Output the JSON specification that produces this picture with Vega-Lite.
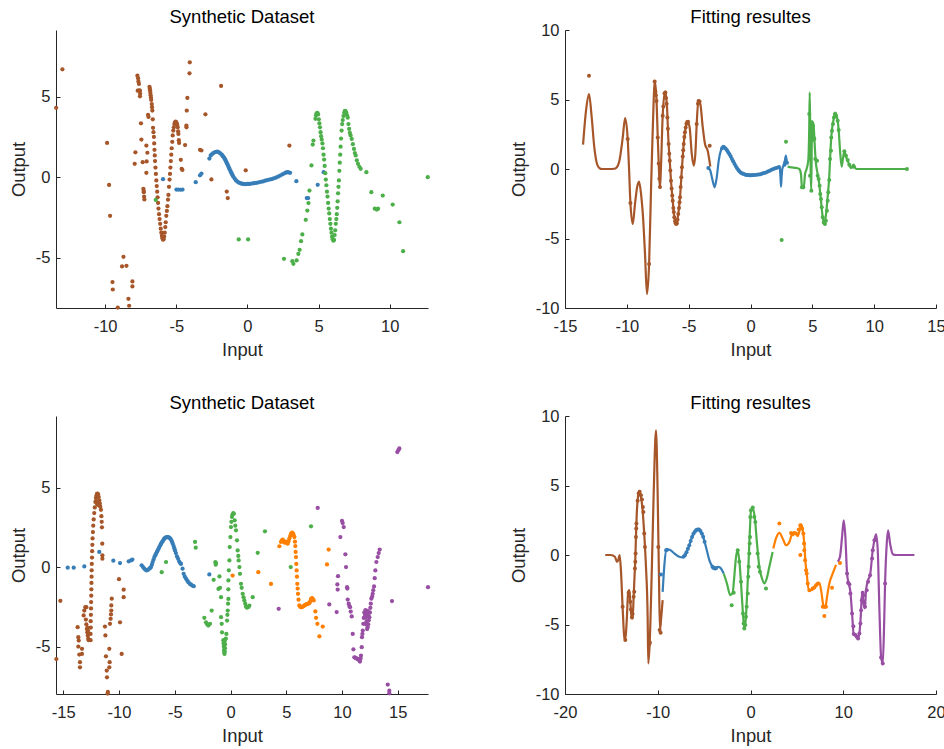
{
"$schema":"https://vega.github.io/schema/vega-lite/v6.json",
"background":"white",
"padding":{"left":9,"top":7,"right":0,"bottom":5},
"config":{
"view":{"stroke":null},
"font":"Liberation Sans",
"axis":{"grid":false,"domainColor":"#262626","domainWidth":1,"tickColor":"#262626","tickSize":-4,"labelColor":"#262626","labelFont":"Liberation Sans","labelFontSize":16.5,"titleFont":"Liberation Sans","titleFontSize":18.4,"titleFontWeight":"normal","titleColor":"#262626","labelFlush":false,"labelOverlap":false,"labelExpr":"toString(datum.value)"},
"axisX":{"labelPadding":14,"titlePadding":6},
"axisY":{"labelPadding":10,"titlePadding":7},
"title":{"font":"Liberation Sans","fontSize":18.5,"fontWeight":"normal","color":"#000000","offset":4,"frame":"group"}
},
"datasets":{
"d1":[
{"x":-13.44,"y":4.31,"g":1},{"x":-13.0,"y":6.71,"g":1},{"x":-9.86,"y":2.13,"g":1},{"x":-9.72,"y":-0.48,"g":1},{"x":-9.65,"y":-2.4,"g":1},{"x":-9.48,"y":-6.52,"g":1},{"x":-9.46,"y":-6.98,"g":1},{"x":-9.11,"y":-8.1,"g":1},{"x":-8.81,"y":-5.55,"g":1},{"x":-8.71,"y":-4.95,"g":1},{"x":-8.5,"y":-5.51,"g":1},{"x":-8.36,"y":-7.56,"g":1},{"x":-8.31,"y":-7.99,"g":1},{"x":-8.08,"y":-6.48,"g":1},{"x":-8.08,"y":-6.79,"g":1},{"x":-7.87,"y":1.55,"g":1},{"x":-7.92,"y":0.83,"g":1},
{"x":-7.73,"y":6.31,"g":1},{"x":-7.68,"y":6.15,"g":1},{"x":-7.66,"y":5.95,"g":1},{"x":-7.62,"y":5.8,"g":1},{"x":-7.71,"y":5.38,"g":1},{"x":-7.6,"y":5.4,"g":1},{"x":-7.55,"y":5.38,"g":1},{"x":-7.54,"y":5.2,"g":1},{"x":-7.55,"y":5.03,"g":1},
{"x":-7.48,"y":3.35,"g":1},{"x":-7.45,"y":2.34,"g":1},{"x":-7.36,"y":0.93,"g":1},{"x":-7.31,"y":-0.72,"g":1},{"x":-7.29,"y":-0.85,"g":1},{"x":-7.28,"y":-0.93,"g":1},{"x":-7.26,"y":-1.2,"g":1},{"x":-7.24,"y":-1.38,"g":1},{"x":-7.1,"y":1.97,"g":1},{"x":-7.03,"y":1.52,"g":1},{"x":-7.08,"y":0.98,"g":1},{"x":-7.1,"y":0.27,"g":1},{"x":-6.98,"y":3.87,"g":1},{"x":-6.95,"y":3.75,"g":1},
{"x":-6.88,"y":5.62,"g":1},{"x":-6.86,"y":5.5,"g":1},{"x":-6.84,"y":5.4,"g":1},{"x":-6.82,"y":5.25,"g":1},{"x":-6.8,"y":5.1,"g":1},{"x":-6.78,"y":4.95,"g":1},{"x":-6.76,"y":4.8,"g":1},{"x":-6.72,"y":4.55,"g":1},{"x":-6.7,"y":4.35,"g":1},{"x":-6.68,"y":4.14,"g":1},{"x":-6.65,"y":3.6,"g":1},{"x":-6.63,"y":3.07,"g":1},{"x":-6.6,"y":2.8,"g":1},
{"x":-6.57,"y":2.5,"g":1},{"x":-6.55,"y":2.1,"g":1},{"x":-6.53,"y":1.7,"g":1},{"x":-6.51,"y":1.35,"g":1},{"x":-6.49,"y":1.0,"g":1},{"x":-6.46,"y":0.6,"g":1},{"x":-6.43,"y":0.2,"g":1},{"x":-6.4,"y":-0.2,"g":1},{"x":-6.37,"y":-0.55,"g":1},{"x":-6.34,"y":-0.9,"g":1},{"x":-6.31,"y":-1.25,"g":1},{"x":-6.28,"y":-1.6,"g":1},{"x":-6.25,"y":-1.95,"g":1},{"x":-6.21,"y":-2.3,"g":1},{"x":-6.17,"y":-2.6,"g":1},{"x":-6.13,"y":-2.9,"g":1},{"x":-6.09,"y":-3.2,"g":1},{"x":-6.05,"y":-3.45,"g":1},{"x":-6.01,"y":-3.65,"g":1},{"x":-5.97,"y":-3.8,"g":1},{"x":-5.93,"y":-3.88,"g":1},{"x":-5.89,"y":-3.85,"g":1},{"x":-5.85,"y":-3.7,"g":1},{"x":-5.81,"y":-3.45,"g":1},{"x":-5.77,"y":-3.1,"g":1},{"x":-5.74,"y":-2.8,"g":1},{"x":-5.7,"y":-2.4,"g":1},{"x":-5.66,"y":-2.1,"g":1},{"x":-5.62,"y":-1.8,"g":1},{"x":-5.58,"y":-1.4,"g":1},{"x":-5.55,"y":-1.1,"g":1},{"x":-5.51,"y":-0.6,"g":1},{"x":-5.47,"y":-0.15,"g":1},{"x":-5.44,"y":0.2,"g":1},{"x":-5.41,"y":0.6,"g":1},{"x":-5.38,"y":1.0,"g":1},{"x":-5.35,"y":1.4,"g":1},{"x":-5.32,"y":1.8,"g":1},{"x":-5.28,"y":2.2,"g":1},{"x":-5.25,"y":2.6,"g":1},{"x":-5.21,"y":2.9,"g":1},{"x":-5.17,"y":3.1,"g":1},{"x":-5.13,"y":3.3,"g":1},{"x":-5.09,"y":3.4,"g":1},{"x":-5.05,"y":3.45,"g":1},{"x":-5.01,"y":3.42,"g":1},{"x":-4.97,"y":3.35,"g":1},{"x":-4.93,"y":3.25,"g":1},
{"x":-4.9,"y":3.1,"g":1},{"x":-4.87,"y":2.85,"g":1},{"x":-4.85,"y":2.69,"g":1},{"x":-4.82,"y":2.3,"g":1},{"x":-4.8,"y":2.13,"g":1},{"x":-4.68,"y":1.08,"g":1},{"x":-4.62,"y":0.52,"g":1},{"x":-4.57,"y":0.45,"g":1},{"x":-4.38,"y":2.0,"g":1},{"x":-4.29,"y":3.21,"g":1},{"x":-4.28,"y":3.1,"g":1},{"x":-4.26,"y":4.14,"g":1},{"x":-4.22,"y":4.93,"g":1},{"x":-4.07,"y":6.46,"g":1},{"x":-4.05,"y":7.14,"g":1},{"x":-3.33,"y":1.7,"g":1},{"x":-3.23,"y":1.66,"g":1},{"x":-2.95,"y":3.91,"g":1},{"x":-2.53,"y":-0.14,"g":1},{"x":-1.85,"y":5.67,"g":1},{"x":-1.45,"y":-0.89,"g":1},{"x":-1.38,"y":-1.3,"g":1},{"x":-0.12,"y":0.43,"g":1},{"x":2.95,"y":1.97,"g":1},
{"x":-5.93,"y":-0.12,"g":2},{"x":-4.99,"y":-0.77,"g":2},{"x":-4.85,"y":-0.77,"g":2},{"x":-4.7,"y":-0.78,"g":2},{"x":-4.56,"y":-0.77,"g":2},{"x":-3.63,"y":-0.31,"g":2},{"x":-3.33,"y":0.12,"g":2},{"x":-3.23,"y":0.23,"g":2},{"x":-2.67,"y":1.16,"g":2},{"x":-2.58,"y":1.35,"g":2},
{"x":-2.5,"y":1.42,"g":2},{"x":-2.4,"y":1.5,"g":2},{"x":-2.3,"y":1.55,"g":2},{"x":-2.2,"y":1.58,"g":2},{"x":-2.1,"y":1.59,"g":2},{"x":-2.0,"y":1.55,"g":2},{"x":-1.9,"y":1.48,"g":2},{"x":-1.8,"y":1.4,"g":2},{"x":-1.75,"y":1.34,"g":2},{"x":-1.7,"y":1.28,"g":2},{"x":-1.65,"y":1.22,"g":2},{"x":-1.6,"y":1.15,"g":2},{"x":-1.55,"y":1.07,"g":2},{"x":-1.5,"y":0.98,"g":2},{"x":-1.45,"y":0.89,"g":2},{"x":-1.4,"y":0.8,"g":2},{"x":-1.35,"y":0.7,"g":2},{"x":-1.3,"y":0.6,"g":2},{"x":-1.25,"y":0.5,"g":2},{"x":-1.2,"y":0.4,"g":2},{"x":-1.15,"y":0.31,"g":2},{"x":-1.1,"y":0.22,"g":2},{"x":-1.05,"y":0.13,"g":2},{"x":-1.0,"y":0.05,"g":2},{"x":-0.9,"y":-0.08,"g":2},{"x":-0.8,"y":-0.2,"g":2},{"x":-0.7,"y":-0.28,"g":2},{"x":-0.6,"y":-0.33,"g":2},{"x":-0.5,"y":-0.37,"g":2},{"x":-0.4,"y":-0.4,"g":2},{"x":-0.3,"y":-0.42,"g":2},{"x":-0.2,"y":-0.43,"g":2},{"x":-0.1,"y":-0.43,"g":2},{"x":0.0,"y":-0.42,"g":2},{"x":0.1,"y":-0.42,"g":2},{"x":0.2,"y":-0.41,"g":2},{"x":0.35,"y":-0.39,"g":2},{"x":0.5,"y":-0.37,"g":2},{"x":0.65,"y":-0.35,"g":2},{"x":0.8,"y":-0.32,"g":2},{"x":0.95,"y":-0.29,"g":2},{"x":1.1,"y":-0.26,"g":2},{"x":1.25,"y":-0.22,"g":2},{"x":1.4,"y":-0.18,"g":2},{"x":1.55,"y":-0.15,"g":2},{"x":1.7,"y":-0.12,"g":2},{"x":1.85,"y":-0.07,"g":2},{"x":2.0,"y":-0.03,"g":2},{"x":2.15,"y":0.03,"g":2},{"x":2.3,"y":0.1,"g":2},{"x":2.45,"y":0.17,"g":2},{"x":2.6,"y":0.24,"g":2},{"x":2.7,"y":0.28,"g":2},{"x":2.8,"y":0.31,"g":2},{"x":2.9,"y":0.3,"g":2},{"x":3.0,"y":0.27,"g":2},
{"x":3.44,"y":-0.25,"g":2},{"x":4.17,"y":-1.3,"g":2},{"x":4.27,"y":-1.3,"g":2},{"x":4.94,"y":-0.47,"g":2},{"x":5.36,"y":0.31,"g":2},
{"x":-6.44,"y":-1.41,"g":3},{"x":-0.61,"y":-3.87,"g":3},{"x":0.05,"y":-3.87,"g":3},{"x":2.57,"y":-5.07,"g":3},{"x":3.16,"y":-5.22,"g":3},{"x":3.23,"y":-5.38,"g":3},{"x":3.46,"y":-5.17,"g":3},{"x":3.58,"y":-4.76,"g":3},{"x":3.67,"y":-4.51,"g":3},{"x":3.77,"y":-3.98,"g":3},{"x":3.86,"y":-3.56,"g":3},{"x":4.1,"y":-2.65,"g":3},{"x":4.21,"y":-2.07,"g":3},{"x":4.29,"y":-1.61,"g":3},{"x":4.36,"y":-0.83,"g":3},{"x":4.5,"y":0.73,"g":3},{"x":4.59,"y":2.03,"g":3},{"x":4.64,"y":2.28,"g":3},
{"x":4.78,"y":3.63,"g":3},{"x":4.82,"y":3.85,"g":3},{"x":4.86,"y":3.97,"g":3},{"x":4.92,"y":4.0,"g":3},{"x":4.97,"y":3.9,"g":3},{"x":5.02,"y":3.6,"g":3},{"x":5.06,"y":3.35,"g":3},{"x":5.1,"y":3.1,"g":3},{"x":5.14,"y":2.8,"g":3},{"x":5.18,"y":2.55,"g":3},{"x":5.22,"y":2.35,"g":3},{"x":5.27,"y":2.1,"g":3},{"x":5.31,"y":1.8,"g":3},{"x":5.35,"y":1.4,"g":3},{"x":5.39,"y":1.1,"g":3},{"x":5.43,"y":0.7,"g":3},{"x":5.47,"y":0.25,"g":3},{"x":5.51,"y":-0.15,"g":3},{"x":5.55,"y":-0.5,"g":3},{"x":5.59,"y":-0.9,"g":3},{"x":5.63,"y":-1.2,"g":3},{"x":5.67,"y":-1.6,"g":3},{"x":5.71,"y":-1.95,"g":3},{"x":5.75,"y":-2.25,"g":3},{"x":5.79,"y":-2.6,"g":3},{"x":5.83,"y":-2.9,"g":3},{"x":5.87,"y":-3.2,"g":3},{"x":5.91,"y":-3.45,"g":3},{"x":5.95,"y":-3.7,"g":3},{"x":5.99,"y":-3.85,"g":3},{"x":6.04,"y":-3.95,"g":3},{"x":6.09,"y":-3.9,"g":3},{"x":6.13,"y":-3.6,"g":3},{"x":6.17,"y":-3.3,"g":3},{"x":6.21,"y":-2.9,"g":3},{"x":6.25,"y":-2.6,"g":3},{"x":6.28,"y":-2.3,"g":3},{"x":6.31,"y":-1.9,"g":3},{"x":6.34,"y":-1.5,"g":3},{"x":6.37,"y":-1.0,"g":3},{"x":6.4,"y":-0.6,"g":3},{"x":6.43,"y":-0.2,"g":3},{"x":6.46,"y":0.4,"g":3},{"x":6.49,"y":0.9,"g":3},{"x":6.52,"y":1.4,"g":3},{"x":6.55,"y":1.9,"g":3},{"x":6.58,"y":2.4,"g":3},{"x":6.62,"y":2.9,"g":3},{"x":6.66,"y":3.3,"g":3},{"x":6.7,"y":3.55,"g":3},{"x":6.75,"y":3.8,"g":3},{"x":6.8,"y":4.0,"g":3},{"x":6.85,"y":4.12,"g":3},{"x":6.9,"y":4.1,"g":3},{"x":6.95,"y":4.0,"g":3},{"x":7.0,"y":3.85,"g":3},{"x":7.05,"y":3.7,"g":3},{"x":7.1,"y":3.3,"g":3},{"x":7.15,"y":3.0,"g":3},{"x":7.2,"y":2.75,"g":3},{"x":7.25,"y":2.6,"g":3},{"x":7.33,"y":2.38,"g":3},{"x":7.41,"y":2.05,"g":3},{"x":7.49,"y":1.76,"g":3},{"x":7.55,"y":1.5,"g":3},{"x":7.61,"y":1.35,"g":3},{"x":7.69,"y":1.05,"g":3},{"x":7.77,"y":0.83,"g":3},{"x":7.87,"y":0.65,"g":3},{"x":7.96,"y":0.52,"g":3},{"x":8.36,"y":0.31,"g":3},
{"x":8.71,"y":-0.93,"g":3},{"x":8.95,"y":-1.96,"g":3},{"x":9.09,"y":-2.01,"g":3},{"x":9.18,"y":-1.96,"g":3},{"x":9.51,"y":-1.14,"g":3},{"x":10.21,"y":-1.7,"g":3},{"x":10.68,"y":-2.8,"g":3},{"x":10.94,"y":-4.6,"g":3},{"x":12.67,"y":0.0,"g":3}
],
"f1":[
{"x":-13.54,"y":1.75,"g":1},{"x":-13.3,"y":4.2,"g":1},{"x":-13.06,"y":5.39,"g":1},{"x":-12.84,"y":3.71,"g":1},{"x":-12.63,"y":1.55,"g":1},{"x":-12.41,"y":0.36,"g":1},{"x":-12.22,"y":0.07,"g":1},{"x":-12.0,"y":0.0,"g":1},{"x":-11.5,"y":0.0,"g":1},{"x":-11.0,"y":0.02,"g":1},{"x":-10.87,"y":0.07,"g":1},{"x":-10.6,"y":0.6,"g":1},{"x":-10.33,"y":2.27,"g":1},{"x":-10.14,"y":3.67,"g":1},{"x":-9.93,"y":2.16,"g":1},{"x":-9.82,"y":0.0,"g":1},{"x":-9.71,"y":-2.45,"g":1},{"x":-9.52,"y":-3.96,"g":1},{"x":-9.34,"y":-2.52,"g":1},{"x":-9.17,"y":-1.32,"g":1},{"x":-9.01,"y":-0.91,"g":1},{"x":-8.85,"y":-1.8,"g":1},{"x":-8.67,"y":-3.72,"g":1},{"x":-8.53,"y":-6.12,"g":1},{"x":-8.37,"y":-9.0,"g":1},{"x":-8.2,"y":-6.83,"g":1},{"x":-8.04,"y":-1.32,"g":1},{"x":-7.94,"y":1.8,"g":1},{"x":-7.83,"y":4.91,"g":1},{"x":-7.75,"y":6.35,"g":1},{"x":-7.61,"y":5.15,"g":1},{"x":-7.5,"y":2.27,"g":1},{"x":-7.4,"y":-0.12,"g":1},{"x":-7.32,"y":-1.37,"g":1},{"x":-7.24,"y":0.12,"g":1},{"x":-7.1,"y":3.83,"g":1},{"x":-6.91,"y":5.58,"g":1},{"x":-6.75,"y":4.43,"g":1},{"x":-6.65,"y":2.27,"g":1},{"x":-6.53,"y":0.6,"g":1},{"x":-6.43,"y":-0.84,"g":1},{"x":-6.29,"y":-2.28,"g":1},{"x":-6.16,"y":-3.48,"g":1},{"x":-6.0,"y":-3.96,"g":1},{"x":-5.84,"y":-3.24,"g":1},{"x":-5.7,"y":-2.04,"g":1},{"x":-5.54,"y":0.12,"g":1},{"x":-5.4,"y":1.8,"g":1},{"x":-5.24,"y":2.99,"g":1},{"x":-5.08,"y":3.4,"g":1},{"x":-4.92,"y":2.99,"g":1},{"x":-4.75,"y":1.08,"g":1},{"x":-4.59,"y":0.24,"g":1},{"x":-4.46,"y":1.08,"g":1},{"x":-4.35,"y":3.24,"g":1},{"x":-4.22,"y":4.91,"g":1},{"x":-4.06,"y":4.68,"g":1},{"x":-3.86,"y":2.99,"g":1},{"x":-3.68,"y":1.8,"g":1},{"x":-3.46,"y":1.32,"g":1},{"x":-3.25,"y":0.17,"g":1},
{"x":-3.35,"y":0.05,"g":2},{"x":-3.25,"y":-0.12,"g":2},{"x":-3.06,"y":-0.84,"g":2},{"x":-2.9,"y":-1.32,"g":2},{"x":-2.73,"y":-0.6,"g":2},{"x":-2.57,"y":0.6,"g":2},{"x":-2.38,"y":1.37,"g":2},{"x":-2.2,"y":1.6,"g":2},{"x":-1.98,"y":1.44,"g":2},{"x":-1.71,"y":1.04,"g":2},{"x":-1.44,"y":0.62,"g":2},{"x":-1.17,"y":0.18,"g":2},{"x":-0.91,"y":-0.16,"g":2},{"x":-0.55,"y":-0.37,"g":2},{"x":-0.1,"y":-0.45,"g":2},{"x":0.3,"y":-0.44,"g":2},{"x":0.85,"y":-0.36,"g":2},{"x":1.3,"y":-0.23,"g":2},{"x":1.66,"y":-0.07,"g":2},{"x":2.2,"y":0.1,"g":2},{"x":2.36,"y":0.17,"g":2},{"x":2.42,"y":-0.5,"g":2},{"x":2.47,"y":-1.27,"g":2},{"x":2.52,"y":-0.5,"g":2},{"x":2.57,"y":0.0,"g":2},{"x":2.73,"y":0.36,"g":2},{"x":2.87,"y":0.96,"g":2},{"x":2.95,"y":0.36,"g":2},
{"x":3.0,"y":0.17,"g":3},{"x":3.3,"y":0.12,"g":3},{"x":3.7,"y":0.08,"g":3},{"x":3.95,"y":0.0,"g":3},{"x":4.08,"y":-0.36,"g":3},{"x":4.16,"y":-1.32,"g":3},{"x":4.3,"y":-1.37,"g":3},{"x":4.41,"y":-0.36,"g":3},{"x":4.51,"y":-0.07,"g":3},{"x":4.67,"y":0.6,"g":3},{"x":4.74,"y":2.5,"g":3},{"x":4.79,"y":5.51,"g":3},{"x":4.84,"y":2.0,"g":3},{"x":4.87,"y":-0.36,"g":3},{"x":4.92,"y":-1.56,"g":3},{"x":4.97,"y":3.47,"g":3},{"x":5.01,"y":2.3,"g":3},{"x":5.05,"y":2.04,"g":3},{"x":5.1,"y":3.3,"g":3},{"x":5.16,"y":2.27,"g":3},{"x":5.27,"y":0.6,"g":3},{"x":5.43,"y":-0.36,"g":3},{"x":5.56,"y":-1.08,"g":3},{"x":5.7,"y":-2.28,"g":3},{"x":5.84,"y":-3.48,"g":3},{"x":5.97,"y":-3.96,"g":3},{"x":6.11,"y":-3.24,"g":3},{"x":6.24,"y":-2.0,"g":3},{"x":6.37,"y":-0.5,"g":3},{"x":6.45,"y":1.0,"g":3},{"x":6.51,"y":2.0,"g":3},{"x":6.6,"y":2.9,"g":3},{"x":6.75,"y":3.7,"g":3},{"x":6.85,"y":4.05,"g":3},{"x":6.95,"y":3.9,"g":3},{"x":7.05,"y":3.47,"g":3},{"x":7.13,"y":2.8,"g":3},{"x":7.25,"y":1.2,"g":3},{"x":7.37,"y":0.17,"g":3},{"x":7.5,"y":0.9,"g":3},{"x":7.59,"y":1.27,"g":3},{"x":7.75,"y":0.84,"g":3},{"x":7.91,"y":0.48,"g":3},{"x":8.12,"y":0.07,"g":3},{"x":8.34,"y":0.31,"g":3},{"x":8.53,"y":0.0,"g":3},{"x":10.0,"y":0.0,"g":3},{"x":12.65,"y":0.0,"g":3}
],
"p1":[
{"x":-13.06,"y":6.71,"g":1},{"x":-9.93,"y":2.16,"g":1},{"x":-9.71,"y":-2.45,"g":1},{"x":-8.2,"y":-6.83,"g":1},{"x":-7.75,"y":6.3,"g":1},{"x":-7.7,"y":5.6,"g":1},{"x":-7.66,"y":5.3,"g":1},{"x":-7.6,"y":4.9,"g":1},{"x":-7.5,"y":2.27,"g":1},{"x":-7.42,"y":0.4,"g":1},{"x":-7.37,"y":-0.7,"g":1},{"x":-7.32,"y":-1.3,"g":1},{"x":-7.1,"y":3.83,"g":1},{"x":-7.05,"y":4.5,"g":1},{"x":-6.95,"y":5.45,"g":1},{"x":-6.88,"y":5.5,"g":1},{"x":-6.83,"y":5.1,"g":1},{"x":-6.78,"y":4.7,"g":1},{"x":-6.72,"y":3.7,"g":1},{"x":-6.68,"y":2.9,"g":1},{"x":-6.62,"y":1.8,"g":1},{"x":-6.57,"y":1.1,"g":1},{"x":-6.53,"y":0.6,"g":1},{"x":-6.48,"y":-0.1,"g":1},{"x":-6.43,"y":-0.84,"g":1},{"x":-6.38,"y":-1.4,"g":1},{"x":-6.33,"y":-1.9,"g":1},{"x":-6.29,"y":-2.28,"g":1},{"x":-6.24,"y":-2.8,"g":1},{"x":-6.2,"y":-3.1,"g":1},{"x":-6.16,"y":-3.48,"g":1},{"x":-6.1,"y":-3.75,"g":1},{"x":-6.05,"y":-3.9,"g":1},{"x":-6.0,"y":-3.96,"g":1},{"x":-5.95,"y":-3.9,"g":1},{"x":-5.9,"y":-3.65,"g":1},{"x":-5.84,"y":-3.24,"g":1},{"x":-5.78,"y":-2.8,"g":1},{"x":-5.74,"y":-2.4,"g":1},{"x":-5.7,"y":-2.04,"g":1},{"x":-5.65,"y":-1.3,"g":1},{"x":-5.6,"y":-0.6,"g":1},{"x":-5.54,"y":0.12,"g":1},{"x":-5.48,"y":0.9,"g":1},{"x":-5.44,"y":1.35,"g":1},{"x":-5.4,"y":1.8,"g":1},{"x":-5.35,"y":2.3,"g":1},{"x":-5.3,"y":2.65,"g":1},{"x":-5.24,"y":2.99,"g":1},{"x":-5.18,"y":3.25,"g":1},{"x":-5.12,"y":3.38,"g":1},{"x":-5.05,"y":3.4,"g":1},{"x":-4.35,"y":3.24,"g":1},{"x":-4.25,"y":4.7,"g":1},{"x":-4.2,"y":4.9,"g":1},{"x":-4.12,"y":4.85,"g":1},{"x":-3.3,"y":1.68,"g":1},
{"x":-3.41,"y":0.07,"g":2},{"x":-2.3,"y":1.5,"g":2},{"x":-2.2,"y":1.6,"g":2},{"x":-2.1,"y":1.55,"g":2},{"x":-2.0,"y":1.45,"g":2},{"x":-1.9,"y":1.35,"g":2},{"x":-1.8,"y":1.2,"g":2},{"x":-1.7,"y":1.07,"g":2},{"x":-1.6,"y":0.9,"g":2},{"x":-1.5,"y":0.72,"g":2},{"x":-1.4,"y":0.55,"g":2},{"x":-1.3,"y":0.38,"g":2},{"x":-1.2,"y":0.22,"g":2},{"x":-1.1,"y":0.08,"g":2},{"x":-1.0,"y":-0.05,"g":2},{"x":-0.9,"y":-0.17,"g":2},{"x":-0.8,"y":-0.25,"g":2},{"x":-0.7,"y":-0.31,"g":2},{"x":-0.6,"y":-0.35,"g":2},{"x":-0.5,"y":-0.38,"g":2},{"x":-0.4,"y":-0.41,"g":2},{"x":-0.3,"y":-0.43,"g":2},{"x":-0.2,"y":-0.44,"g":2},{"x":-0.1,"y":-0.45,"g":2},{"x":0.0,"y":-0.45,"g":2},{"x":0.1,"y":-0.45,"g":2},{"x":0.2,"y":-0.44,"g":2},{"x":0.35,"y":-0.43,"g":2},{"x":0.5,"y":-0.41,"g":2},{"x":0.65,"y":-0.39,"g":2},{"x":0.8,"y":-0.37,"g":2},{"x":0.95,"y":-0.33,"g":2},{"x":1.1,"y":-0.29,"g":2},{"x":1.25,"y":-0.25,"g":2},{"x":1.4,"y":-0.18,"g":2},{"x":1.55,"y":-0.12,"g":2},{"x":1.7,"y":-0.06,"g":2},{"x":1.85,"y":0.0,"g":2},{"x":2.0,"y":0.05,"g":2},{"x":2.15,"y":0.09,"g":2},{"x":2.3,"y":0.14,"g":2},{"x":2.75,"y":0.3,"g":2},{"x":2.8,"y":0.45,"g":2},{"x":2.95,"y":0.45,"g":2},
{"x":2.87,"y":1.96,"g":3},{"x":2.52,"y":-5.1,"g":3},{"x":4.16,"y":-1.32,"g":3},{"x":4.27,"y":-1.32,"g":3},{"x":4.75,"y":3.95,"g":3},{"x":4.81,"y":-0.48,"g":3},{"x":4.92,"y":-1.56,"g":3},{"x":4.97,"y":3.35,"g":3},{"x":5.05,"y":3.11,"g":3},{"x":5.11,"y":2.27,"g":3},{"x":5.16,"y":2.16,"g":3},{"x":5.24,"y":0.72,"g":3},{"x":5.38,"y":0.6,"g":3},{"x":5.43,"y":-0.48,"g":3},{"x":5.51,"y":-0.72,"g":3},{"x":5.59,"y":-1.2,"g":3},{"x":5.64,"y":-1.8,"g":3},{"x":5.7,"y":-2.16,"g":3},{"x":5.76,"y":-2.76,"g":3},{"x":5.84,"y":-3.48,"g":3},{"x":5.92,"y":-3.84,"g":3},{"x":6.02,"y":-3.96,"g":3},{"x":6.1,"y":-3.72,"g":3},{"x":6.18,"y":-3.0,"g":3},{"x":6.24,"y":-2.28,"g":3},{"x":6.29,"y":-1.68,"g":3},{"x":6.37,"y":-0.79,"g":3},{"x":6.43,"y":0.72,"g":3},{"x":6.51,"y":1.32,"g":3},{"x":6.53,"y":2.27,"g":3},{"x":6.59,"y":2.76,"g":3},{"x":6.67,"y":3.24,"g":3},{"x":6.75,"y":3.71,"g":3},{"x":6.83,"y":3.96,"g":3},{"x":6.91,"y":3.83,"g":3},{"x":7.05,"y":3.47,"g":3},{"x":7.13,"y":2.81,"g":3},{"x":7.59,"y":1.27,"g":3},{"x":7.72,"y":0.96,"g":3},{"x":7.86,"y":0.65,"g":3},{"x":7.99,"y":0.31,"g":3},{"x":8.34,"y":0.17,"g":3},{"x":12.65,"y":0.0,"g":3}
],
"d2":[
{"x":-15.62,"y":-5.78,"g":1},{"x":-15.26,"y":-2.12,"g":1},{"x":-13.71,"y":-3.78,"g":1},{"x":-13.65,"y":-4.41,"g":1},{"x":-13.61,"y":-4.62,"g":1},{"x":-13.65,"y":-5.0,"g":1},{"x":-13.56,"y":-5.5,"g":1},{"x":-13.5,"y":-5.98,"g":1},{"x":-13.5,"y":-6.3,"g":1},{"x":-13.32,"y":-5.14,"g":1},{"x":-13.32,"y":-5.46,"g":1},{"x":-13.17,"y":-3.04,"g":1},{"x":-13.11,"y":-2.73,"g":1},{"x":-13.02,"y":-2.52,"g":1},{"x":-12.93,"y":-2.52,"g":1},{"x":-12.97,"y":-3.3,"g":1},{"x":-12.93,"y":-3.6,"g":1},{"x":-12.88,"y":-3.9,"g":1},{"x":-12.84,"y":-4.1,"g":1},{"x":-12.8,"y":-4.3,"g":1},{"x":-12.76,"y":-4.5,"g":1},{"x":-12.72,"y":-4.6,"g":1},{"x":-12.82,"y":-3.8,"g":1},{"x":-12.78,"y":-4.0,"g":1},
{"x":-12.55,"y":-4.6,"g":1},{"x":-12.55,"y":-4.2,"g":1},{"x":-12.53,"y":-3.8,"g":1},{"x":-12.54,"y":-3.4,"g":1},{"x":-12.52,"y":-3.0,"g":1},{"x":-12.51,"y":-2.6,"g":1},{"x":-12.5,"y":-2.2,"g":1},{"x":-12.49,"y":-1.8,"g":1},{"x":-12.48,"y":-1.4,"g":1},{"x":-12.47,"y":-1.0,"g":1},{"x":-12.46,"y":-0.6,"g":1},{"x":-12.45,"y":-0.2,"g":1},{"x":-12.44,"y":0.2,"g":1},{"x":-12.42,"y":0.6,"g":1},{"x":-12.41,"y":1.0,"g":1},{"x":-12.39,"y":1.4,"g":1},{"x":-12.37,"y":1.8,"g":1},{"x":-12.34,"y":2.2,"g":1},{"x":-12.31,"y":2.6,"g":1},{"x":-12.27,"y":3.0,"g":1},{"x":-12.22,"y":3.4,"g":1},{"x":-12.17,"y":3.75,"g":1},{"x":-12.12,"y":4.1,"g":1},{"x":-12.07,"y":4.35,"g":1},{"x":-12.02,"y":4.5,"g":1},{"x":-11.97,"y":4.6,"g":1},{"x":-11.92,"y":4.62,"g":1},{"x":-11.87,"y":4.55,"g":1},{"x":-11.82,"y":4.4,"g":1},{"x":-11.77,"y":4.2,"g":1},{"x":-11.72,"y":4.0,"g":1},{"x":-11.68,"y":3.8,"g":1},{"x":-12.05,"y":4.15,"g":1},{"x":-12.0,"y":4.05,"g":1},{"x":-11.95,"y":3.95,"g":1},{"x":-11.9,"y":4.0,"g":1},{"x":-11.85,"y":3.9,"g":1},{"x":-11.8,"y":3.95,"g":1},
{"x":-11.62,"y":3.6,"g":1},{"x":-11.58,"y":3.2,"g":1},{"x":-11.55,"y":2.85,"g":1},{"x":-11.53,"y":2.5,"g":1},{"x":-11.5,"y":1.47,"g":1},{"x":-11.49,"y":0.74,"g":1},{"x":-11.49,"y":0.53,"g":1},
{"x":-11.26,"y":-3.74,"g":1},{"x":-11.22,"y":-4.3,"g":1},{"x":-11.17,"y":-5.61,"g":1},{"x":-11.1,"y":-6.51,"g":1},{"x":-11.08,"y":-6.93,"g":1},{"x":-11.02,"y":-7.95,"g":1},{"x":-11.0,"y":-7.85,"g":1},{"x":-10.87,"y":-5.14,"g":1},{"x":-10.84,"y":-5.98,"g":1},{"x":-10.87,"y":-6.3,"g":1},{"x":-10.81,"y":-3.57,"g":1},{"x":-10.75,"y":-3.25,"g":1},{"x":-10.72,"y":-2.98,"g":1},{"x":-10.69,"y":-2.73,"g":1},{"x":-10.69,"y":-2.41,"g":1},{"x":-10.65,"y":-1.99,"g":1},{"x":-10.0,"y":-0.76,"g":1},{"x":-9.91,"y":-3.47,"g":1},{"x":-9.76,"y":-5.46,"g":1},{"x":-9.58,"y":-1.42,"g":1},{"x":-9.58,"y":-1.89,"g":1},
{"x":-14.6,"y":-0.04,"g":2},{"x":-14.06,"y":-0.04,"g":2},{"x":-13.11,"y":0.04,"g":2},{"x":-11.77,"y":0.95,"g":2},{"x":-10.51,"y":0.4,"g":2},{"x":-9.91,"y":0.25,"g":2},{"x":-9.13,"y":0.36,"g":2},{"x":-8.92,"y":0.42,"g":2},{"x":-8.8,"y":0.47,"g":2},
{"x":-7.97,"y":0.11,"g":2},{"x":-7.85,"y":0.0,"g":2},{"x":-7.73,"y":-0.1,"g":2},{"x":-7.62,"y":-0.17,"g":2},{"x":-7.52,"y":-0.21,"g":2},{"x":-7.4,"y":-0.17,"g":2},{"x":-7.28,"y":-0.1,"g":2},{"x":-7.2,"y":-0.05,"g":2},{"x":-7.13,"y":0.0,"g":2},{"x":-7.05,"y":0.15,"g":2},{"x":-6.98,"y":0.32,"g":2},{"x":-6.9,"y":0.47,"g":2},{"x":-6.83,"y":0.63,"g":2},{"x":-6.75,"y":0.74,"g":2},{"x":-6.68,"y":0.84,"g":2},{"x":-6.6,"y":0.95,"g":2},{"x":-6.53,"y":1.05,"g":2},{"x":-6.45,"y":1.16,"g":2},{"x":-6.38,"y":1.26,"g":2},{"x":-6.3,"y":1.37,"g":2},{"x":-6.23,"y":1.47,"g":2},{"x":-6.15,"y":1.56,"g":2},{"x":-6.08,"y":1.64,"g":2},{"x":-6.0,"y":1.72,"g":2},{"x":-5.94,"y":1.79,"g":2},{"x":-5.86,"y":1.84,"g":2},{"x":-5.78,"y":1.87,"g":2},{"x":-5.7,"y":1.89,"g":2},{"x":-5.63,"y":1.89,"g":2},{"x":-5.55,"y":1.87,"g":2},{"x":-5.48,"y":1.84,"g":2},{"x":-5.4,"y":1.79,"g":2},{"x":-5.32,"y":1.7,"g":2},{"x":-5.25,"y":1.6,"g":2},{"x":-5.18,"y":1.47,"g":2},{"x":-5.1,"y":1.32,"g":2},{"x":-5.04,"y":1.18,"g":2},{"x":-4.98,"y":1.05,"g":2},{"x":-4.9,"y":0.88,"g":2},{"x":-4.8,"y":0.67,"g":2},{"x":-4.7,"y":0.52,"g":2},{"x":-4.6,"y":0.35,"g":2},{"x":-4.5,"y":0.24,"g":2},{"x":-4.44,"y":0.2,"g":2},{"x":-4.3,"y":-0.1,"g":2},{"x":-4.2,"y":-0.42,"g":2},{"x":-4.1,"y":-0.6,"g":2},{"x":-3.99,"y":-0.73,"g":2},{"x":-3.88,"y":-0.85,"g":2},{"x":-3.78,"y":-0.95,"g":2},{"x":-3.66,"y":-1.04,"g":2},{"x":-3.54,"y":-1.11,"g":2},{"x":-3.42,"y":-1.16,"g":2},{"x":-3.3,"y":-1.2,"g":2},{"x":-1.9,"y":-0.46,"g":2},
{"x":-6.17,"y":-0.32,"g":3},{"x":-5.78,"y":0.32,"g":3},{"x":-3.18,"y":1.58,"g":3},{"x":-3.12,"y":1.22,"g":3},{"x":-2.35,"y":-3.19,"g":3},{"x":-2.2,"y":-3.47,"g":3},{"x":-1.99,"y":-3.68,"g":3},{"x":-1.84,"y":-3.57,"g":3},{"x":-2.1,"y":-3.6,"g":3},{"x":-1.69,"y":-2.73,"g":3},{"x":-1.51,"y":-0.8,"g":3},{"x":-1.36,"y":0.31,"g":3},{"x":-1.3,"y":0.25,"g":3},{"x":-1.33,"y":0.15,"g":3},{"x":-1.08,"y":-1.37,"g":3},{"x":-0.99,"y":-0.59,"g":3},{"x":-0.94,"y":-1.3,"g":3},{"x":-0.85,"y":-1.89,"g":3},{"x":-0.85,"y":-3.15,"g":3},{"x":-0.79,"y":-3.57,"g":3},{"x":-0.76,"y":-4.1,"g":3},
{"x":-0.64,"y":-4.6,"g":3},{"x":-0.62,"y":-4.8,"g":3},{"x":-0.6,"y":-5.0,"g":3},{"x":-0.58,"y":-5.2,"g":3},{"x":-0.56,"y":-5.35,"g":3},{"x":-0.54,"y":-5.46,"g":3},{"x":-0.52,"y":-5.3,"g":3},{"x":-0.5,"y":-5.1,"g":3},{"x":-0.55,"y":-4.9,"g":3},{"x":-0.6,"y":-4.7,"g":3},{"x":-0.49,"y":-4.85,"g":3},{"x":-0.52,"y":-4.65,"g":3},
{"x":-0.42,"y":-4.5,"g":3},{"x":-0.37,"y":-4.2,"g":3},{"x":-0.31,"y":-3.36,"g":3},{"x":-0.28,"y":-3.0,"g":3},{"x":-0.25,"y":-2.73,"g":3},{"x":-0.22,"y":-2.3,"g":3},{"x":-0.19,"y":-2.0,"g":3},{"x":-0.2,"y":-1.4,"g":3},{"x":-0.19,"y":-0.84,"g":3},{"x":-0.15,"y":-0.2,"g":3},{"x":-0.1,"y":0.42,"g":3},{"x":-0.07,"y":1.26,"g":3},{"x":-0.01,"y":1.89,"g":3},{"x":0.04,"y":2.52,"g":3},{"x":0.08,"y":2.85,"g":3},{"x":0.13,"y":3.15,"g":3},{"x":0.18,"y":3.3,"g":3},{"x":0.25,"y":3.4,"g":3},{"x":0.3,"y":3.35,"g":3},{"x":0.37,"y":2.94,"g":3},{"x":0.43,"y":2.6,"g":3},{"x":0.49,"y":2.31,"g":3},{"x":0.58,"y":1.68,"g":3},{"x":0.64,"y":1.05,"g":3},{"x":0.7,"y":0.7,"g":3},{"x":0.73,"y":0.42,"g":3},{"x":0.8,"y":0.0,"g":3},{"x":0.85,"y":-0.42,"g":3},{"x":0.94,"y":-1.05,"g":3},{"x":1.0,"y":-1.3,"g":3},{"x":1.09,"y":-1.68,"g":3},{"x":1.17,"y":-1.9,"g":3},{"x":1.24,"y":-2.1,"g":3},{"x":1.32,"y":-2.3,"g":3},{"x":1.39,"y":-2.48,"g":3},{"x":1.47,"y":-2.55,"g":3},{"x":1.54,"y":-2.52,"g":3},{"x":1.62,"y":-2.5,"g":3},{"x":1.69,"y":-2.42,"g":3},{"x":1.99,"y":-1.89,"g":3},{"x":2.44,"y":0.9,"g":3},{"x":3.09,"y":2.25,"g":3},{"x":5.4,"y":0.0,"g":3},{"x":7.22,"y":2.56,"g":3},
{"x":0.19,"y":-0.53,"g":4},{"x":2.49,"y":-0.32,"g":4},{"x":3.63,"y":-1.06,"g":4},{"x":4.38,"y":1.31,"g":4},{"x":4.53,"y":1.58,"g":4},{"x":4.6,"y":1.66,"g":4},{"x":4.68,"y":1.73,"g":4},{"x":4.75,"y":1.65,"g":4},{"x":4.83,"y":1.55,"g":4},{"x":4.92,"y":1.58,"g":4},{"x":5.0,"y":1.52,"g":4},{"x":5.07,"y":1.6,"g":4},{"x":5.13,"y":1.47,"g":4},{"x":5.2,"y":1.62,"g":4},{"x":5.28,"y":1.79,"g":4},{"x":5.35,"y":1.95,"g":4},{"x":5.43,"y":2.1,"g":4},{"x":5.52,"y":2.16,"g":4},{"x":5.6,"y":2.12,"g":4},{"x":5.67,"y":2.0,"g":4},{"x":5.73,"y":1.89,"g":4},{"x":5.78,"y":1.6,"g":4},{"x":5.81,"y":1.32,"g":4},{"x":5.84,"y":0.95,"g":4},{"x":5.87,"y":0.63,"g":4},{"x":5.9,"y":0.2,"g":4},{"x":5.93,"y":-0.21,"g":4},{"x":5.96,"y":-0.6,"g":4},{"x":5.99,"y":-1.05,"g":4},{"x":6.02,"y":-1.35,"g":4},{"x":6.05,"y":-1.68,"g":4},{"x":6.1,"y":-2.05,"g":4},{"x":6.17,"y":-2.41,"g":4},{"x":6.25,"y":-2.5,"g":4},{"x":6.33,"y":-2.52,"g":4},{"x":6.41,"y":-2.52,"g":4},{"x":6.5,"y":-2.47,"g":4},{"x":6.6,"y":-2.42,"g":4},{"x":6.68,"y":-2.4,"g":4},{"x":6.77,"y":-2.35,"g":4},{"x":6.85,"y":-2.33,"g":4},{"x":6.95,"y":-2.3,"g":4},{"x":7.07,"y":-2.27,"g":4},{"x":7.15,"y":-2.15,"g":4},{"x":7.22,"y":-2.0,"g":4},{"x":7.31,"y":-1.95,"g":4},{"x":7.38,"y":-2.0,"g":4},{"x":7.46,"y":-2.1,"g":4},{"x":7.61,"y":-2.79,"g":4},{"x":7.67,"y":-3.19,"g":4},{"x":7.79,"y":-3.57,"g":4},{"x":7.97,"y":-4.35,"g":4},{"x":8.27,"y":-3.74,"g":4},{"x":8.65,"y":0.17,"g":4},{"x":8.8,"y":1.1,"g":4},
{"x":4.32,"y":-2.62,"g":5},{"x":7.82,"y":3.72,"g":5},{"x":8.86,"y":-2.35,"g":5},{"x":9.52,"y":-2.83,"g":5},{"x":9.58,"y":-1.09,"g":5},{"x":9.61,"y":-1.41,"g":5},{"x":9.64,"y":-0.57,"g":5},{"x":9.85,"y":1.89,"g":5},{"x":10.0,"y":2.9,"g":5},{"x":10.06,"y":2.77,"g":5},{"x":10.15,"y":2.52,"g":5},{"x":10.3,"y":0.8,"g":5},{"x":10.36,"y":0.0,"g":5},{"x":10.45,"y":-1.26,"g":5},{"x":10.48,"y":-1.35,"g":5},{"x":10.51,"y":-2.04,"g":5},{"x":10.6,"y":-2.3,"g":5},{"x":10.66,"y":-2.45,"g":5},{"x":10.72,"y":-2.52,"g":5},{"x":10.78,"y":-2.8,"g":5},{"x":10.87,"y":-3.1,"g":5},{"x":10.96,"y":-4.2,"g":5},{"x":11.02,"y":-5.17,"g":5},{"x":11.1,"y":-5.67,"g":5},{"x":11.18,"y":-5.7,"g":5},{"x":11.25,"y":-5.72,"g":5},{"x":11.33,"y":-5.75,"g":5},{"x":11.41,"y":-5.78,"g":5},{"x":11.48,"y":-5.8,"g":5},{"x":11.55,"y":-5.88,"g":5},{"x":11.61,"y":-5.94,"g":5},{"x":11.66,"y":-5.75,"g":5},{"x":11.7,"y":-5.57,"g":5},{"x":11.77,"y":-5.04,"g":5},{"x":11.79,"y":-4.41,"g":5},{"x":11.83,"y":-4.2,"g":5},{"x":11.86,"y":-3.99,"g":5},{"x":11.91,"y":-3.57,"g":5},{"x":11.95,"y":-3.2,"g":5},{"x":12.0,"y":-2.84,"g":5},{"x":12.05,"y":-2.95,"g":5},{"x":12.1,"y":-3.05,"g":5},{"x":12.15,"y":-3.15,"g":5},{"x":12.2,"y":-3.4,"g":5},{"x":12.25,"y":-3.6,"g":5},{"x":12.3,"y":-3.78,"g":5},{"x":12.35,"y":-3.6,"g":5},{"x":12.4,"y":-3.35,"g":5},{"x":12.45,"y":-3.15,"g":5},{"x":12.5,"y":-2.85,"g":5},{"x":12.54,"y":-2.56,"g":5},{"x":12.58,"y":-2.3,"g":5},{"x":12.63,"y":-1.99,"g":5},{"x":12.7,"y":-1.85,"g":5},{"x":12.75,"y":-1.68,"g":5},{"x":12.8,"y":-1.45,"g":5},{"x":12.87,"y":-1.22,"g":5},{"x":12.93,"y":-0.7,"g":5},{"x":12.99,"y":-0.21,"g":5},{"x":13.08,"y":0.32,"g":5},{"x":13.2,"y":0.63,"g":5},{"x":13.29,"y":0.88,"g":5},{"x":13.38,"y":1.1,"g":5},{"x":12.1,"y":-2.7,"g":5},{"x":12.2,"y":-2.9,"g":5},{"x":12.15,"y":-3.6,"g":5},{"x":12.25,"y":-3.9,"g":5},{"x":12.35,"y":-3.1,"g":5},{"x":12.4,"y":-2.9,"g":5},{"x":12.3,"y":-2.75,"g":5},{"x":14.1,"y":-7.39,"g":5},{"x":14.24,"y":-7.77,"g":5},{"x":14.24,"y":-7.94,"g":5},{"x":14.48,"y":-2.14,"g":5},{"x":14.96,"y":7.23,"g":5},{"x":15.05,"y":7.35,"g":5},{"x":15.14,"y":7.46,"g":5},{"x":17.71,"y":-1.26,"g":5}
],
"f2":[
{"x":-15.66,"y":0.0,"g":1},{"x":-15.05,"y":0.0,"g":1},{"x":-14.62,"y":-0.13,"g":1},{"x":-14.4,"y":-0.49,"g":1},{"x":-14.26,"y":-0.37,"g":1},{"x":-14.11,"y":0.0,"g":1},{"x":-13.97,"y":-1.09,"g":1},{"x":-13.79,"y":-3.73,"g":1},{"x":-13.61,"y":-5.88,"g":1},{"x":-13.5,"y":-6.12,"g":1},{"x":-13.36,"y":-4.92,"g":1},{"x":-13.18,"y":-2.65,"g":1},{"x":-13.07,"y":-2.53,"g":1},{"x":-12.97,"y":-3.25,"g":1},{"x":-12.82,"y":-4.45,"g":1},{"x":-12.71,"y":-4.56,"g":1},{"x":-12.6,"y":-3.01,"g":1},{"x":-12.5,"y":-1.5,"g":1},{"x":-12.42,"y":-0.3,"g":1},{"x":-12.35,"y":1.3,"g":1},{"x":-12.28,"y":2.7,"g":1},{"x":-12.17,"y":3.95,"g":1},{"x":-12.0,"y":4.61,"g":1},{"x":-11.81,"y":4.17,"g":1},{"x":-11.63,"y":3.22,"g":1},{"x":-11.46,"y":1.54,"g":1},{"x":-11.27,"y":-0.85,"g":1},{"x":-11.09,"y":-4.45,"g":1},{"x":-11.02,"y":-7.8,"g":1},{"x":-10.87,"y":-6.36,"g":1},{"x":-10.66,"y":-1.57,"g":1},{"x":-10.44,"y":4.42,"g":1},{"x":-10.19,"y":8.97,"g":1},{"x":-10.01,"y":4.42,"g":1},{"x":-9.87,"y":-1.57,"g":1},{"x":-9.76,"y":-5.4,"g":1},{"x":-9.62,"y":-4.45,"g":1},{"x":-9.47,"y":-3.25,"g":1},
{"x":-9.47,"y":-2.65,"g":2},{"x":-9.3,"y":-0.85,"g":2},{"x":-9.08,"y":0.34,"g":2},{"x":-8.76,"y":0.39,"g":2},{"x":-8.22,"y":0.11,"g":2},{"x":-7.68,"y":-0.13,"g":2},{"x":-7.31,"y":-0.18,"g":2},{"x":-6.96,"y":0.11,"g":2},{"x":-6.6,"y":0.7,"g":2},{"x":-6.24,"y":1.42,"g":2},{"x":-5.88,"y":1.78,"g":2},{"x":-5.52,"y":1.83,"g":2},{"x":-5.16,"y":1.42,"g":2},{"x":-4.8,"y":0.58,"g":2},{"x":-4.44,"y":-0.37,"g":2},{"x":-4.08,"y":-0.85,"g":2},{"x":-3.83,"y":-0.97,"g":2},{"x":-3.47,"y":-0.85,"g":2},{"x":-3.18,"y":-0.97,"g":2},{"x":-2.89,"y":-1.33,"g":2},
{"x":-2.89,"y":-1.33,"g":3},{"x":-2.54,"y":-2.05,"g":3},{"x":-2.18,"y":-2.89,"g":3},{"x":-1.92,"y":-2.72,"g":3},{"x":-1.75,"y":-1.57,"g":3},{"x":-1.56,"y":-0.13,"g":3},{"x":-1.38,"y":0.34,"g":3},{"x":-1.21,"y":-0.37,"g":3},{"x":-1.02,"y":-2.05,"g":3},{"x":-0.84,"y":-3.97,"g":3},{"x":-0.67,"y":-5.28,"g":3},{"x":-0.49,"y":-4.45,"g":3},{"x":-0.38,"y":-3.01,"g":3},{"x":-0.24,"y":-1.09,"g":3},{"x":-0.13,"y":0.83,"g":3},{"x":-0.02,"y":2.5,"g":3},{"x":0.05,"y":3.22,"g":3},{"x":0.24,"y":3.41,"g":3},{"x":0.49,"y":2.5,"g":3},{"x":0.7,"y":0.83,"g":3},{"x":0.95,"y":-0.85,"g":3},{"x":1.24,"y":-1.69,"g":3},{"x":1.49,"y":-2.05,"g":3},{"x":1.75,"y":-1.69,"g":3},{"x":2.03,"y":-0.85,"g":3},{"x":2.39,"y":0.22,"g":3},
{"x":2.46,"y":0.47,"g":4},{"x":2.75,"y":1.19,"g":4},{"x":3.11,"y":1.59,"g":4},{"x":3.47,"y":1.19,"g":4},{"x":3.83,"y":0.7,"g":4},{"x":4.19,"y":0.94,"g":4},{"x":4.55,"y":1.59,"g":4},{"x":4.91,"y":1.54,"g":4},{"x":5.09,"y":1.35,"g":4},{"x":5.34,"y":1.9,"g":4},{"x":5.48,"y":2.21,"g":4},{"x":5.63,"y":1.78,"g":4},{"x":5.8,"y":0.83,"g":4},{"x":5.91,"y":-0.37,"g":4},{"x":6.06,"y":-1.33,"g":4},{"x":6.28,"y":-2.53,"g":4},{"x":6.53,"y":-2.53,"g":4},{"x":6.88,"y":-2.34,"g":4},{"x":7.17,"y":-2.05,"g":4},{"x":7.42,"y":-2.0,"g":4},{"x":7.64,"y":-2.65,"g":4},{"x":7.85,"y":-3.61,"g":4},{"x":8.07,"y":-3.78,"g":4},{"x":8.25,"y":-3.01,"g":4},{"x":8.5,"y":-2.05,"g":4},{"x":8.87,"y":-1.33,"g":4},{"x":9.22,"y":-0.71,"g":4},
{"x":9.41,"y":-0.49,"g":5},{"x":9.65,"y":-0.13,"g":5},{"x":9.87,"y":1.3,"g":5},{"x":10.05,"y":2.5,"g":5},{"x":10.23,"y":1.3,"g":5},{"x":10.41,"y":-1.33,"g":5},{"x":10.59,"y":-2.05,"g":5},{"x":10.77,"y":-2.65,"g":5},{"x":10.95,"y":-4.2,"g":5},{"x":11.13,"y":-5.69,"g":5},{"x":11.38,"y":-5.76,"g":5},{"x":11.6,"y":-6.0,"g":5},{"x":11.78,"y":-5.4,"g":5},{"x":11.89,"y":-4.4,"g":5},{"x":12.03,"y":-2.65,"g":5},{"x":12.17,"y":-3.37,"g":5},{"x":12.32,"y":-3.84,"g":5},{"x":12.46,"y":-2.53,"g":5},{"x":12.68,"y":-1.81,"g":5},{"x":12.89,"y":-1.45,"g":5},{"x":13.18,"y":0.34,"g":5},{"x":13.4,"y":1.19,"g":5},{"x":13.54,"y":1.49,"g":5},{"x":13.72,"y":0.34,"g":5},{"x":13.9,"y":-3.97,"g":5},{"x":14.08,"y":-7.32,"g":5},{"x":14.26,"y":-7.8,"g":5},{"x":14.4,"y":-5.17,"g":5},{"x":14.51,"y":-2.05,"g":5},{"x":14.69,"y":0.83,"g":5},{"x":14.83,"y":1.78,"g":5},{"x":15.05,"y":0.83,"g":5},{"x":15.34,"y":0.06,"g":5},{"x":15.7,"y":0.0,"g":5},{"x":17.67,"y":0.0,"g":5}
],
"p2":[
{"x":-13.79,"y":-3.73,"g":1},{"x":-13.5,"y":-6.12,"g":1},{"x":-13.14,"y":-2.72,"g":1},{"x":-12.97,"y":-3.37,"g":1},{"x":-12.89,"y":-3.92,"g":1},{"x":-12.78,"y":-4.49,"g":1},{"x":-12.71,"y":-4.25,"g":1},{"x":-12.6,"y":-3.01,"g":1},{"x":-12.53,"y":-2.65,"g":1},{"x":-12.46,"y":-0.97,"g":1},{"x":-12.42,"y":-0.49,"g":1},{"x":-12.39,"y":0.11,"g":1},{"x":-12.35,"y":1.3,"g":1},{"x":-12.32,"y":1.9,"g":1},{"x":-12.3,"y":2.26,"g":1},{"x":-12.17,"y":3.9,"g":1},{"x":-12.06,"y":4.42,"g":1},{"x":-11.95,"y":4.55,"g":1},{"x":-11.81,"y":4.3,"g":1},{"x":-11.7,"y":3.99,"g":1},{"x":-11.6,"y":3.46,"g":1},{"x":-11.55,"y":3.1,"g":1},{"x":-11.46,"y":1.54,"g":1},{"x":-11.38,"y":0.58,"g":1},{"x":-10.9,"y":-6.4,"g":1},{"x":-10.85,"y":-6.3,"g":1},{"x":-9.94,"y":0.58,"g":1},{"x":-9.8,"y":-5.4,"g":1},{"x":-9.69,"y":-5.6,"g":1},
{"x":-9.65,"y":-1.4,"g":2},{"x":-9.1,"y":0.34,"g":2},{"x":-9.0,"y":0.38,"g":2},{"x":-7.2,"y":-0.1,"g":2},{"x":-7.05,"y":0.0,"g":2},{"x":-6.9,"y":0.2,"g":2},{"x":-6.75,"y":0.45,"g":2},{"x":-6.6,"y":0.7,"g":2},{"x":-6.45,"y":1.0,"g":2},{"x":-6.3,"y":1.3,"g":2},{"x":-6.15,"y":1.52,"g":2},{"x":-6.0,"y":1.68,"g":2},{"x":-5.85,"y":1.8,"g":2},{"x":-5.7,"y":1.83,"g":2},{"x":-5.55,"y":1.84,"g":2},{"x":-5.4,"y":1.72,"g":2},{"x":-5.25,"y":1.55,"g":2},{"x":-5.1,"y":1.32,"g":2},{"x":-4.95,"y":0.95,"g":2},{"x":-4.1,"y":-0.85,"g":2},{"x":-4.0,"y":-0.92,"g":2},{"x":-3.9,"y":-0.96,"g":2},{"x":-3.8,"y":-0.97,"g":2},{"x":-3.7,"y":-0.93,"g":2},
{"x":-2.03,"y":-3.61,"g":3},{"x":-1.81,"y":-2.72,"g":3},{"x":-1.38,"y":0.34,"g":3},{"x":-1.21,"y":-0.49,"g":3},{"x":-1.02,"y":-1.93,"g":3},{"x":-0.81,"y":-4.2,"g":3},{"x":-0.74,"y":-4.92,"g":3},{"x":-0.67,"y":-5.28,"g":3},{"x":-0.56,"y":-5.04,"g":3},{"x":-0.49,"y":-4.45,"g":3},{"x":-0.41,"y":-3.73,"g":3},{"x":-0.3,"y":-2.77,"g":3},{"x":-0.24,"y":-1.57,"g":3},{"x":-0.2,"y":-0.85,"g":3},{"x":-0.13,"y":0.11,"g":3},{"x":-0.09,"y":0.83,"g":3},{"x":-0.05,"y":1.3,"g":3},{"x":-0.02,"y":2.74,"g":3},{"x":0.05,"y":3.22,"g":3},{"x":0.24,"y":3.41,"g":3},{"x":0.41,"y":2.74,"g":3},{"x":0.52,"y":2.38,"g":3},{"x":0.77,"y":0.11,"g":3},{"x":0.88,"y":-0.85,"g":3},{"x":1.02,"y":-1.21,"g":3},{"x":1.67,"y":-2.41,"g":3},
{"x":3.11,"y":2.26,"g":4},{"x":4.37,"y":1.59,"g":4},{"x":4.55,"y":1.49,"g":4},{"x":4.73,"y":1.59,"g":4},{"x":4.91,"y":1.54,"g":4},{"x":5.2,"y":1.83,"g":4},{"x":5.37,"y":2.14,"g":4},{"x":5.45,"y":2.02,"g":4},{"x":5.56,"y":1.9,"g":4},{"x":5.7,"y":1.54,"g":4},{"x":5.77,"y":0.83,"g":4},{"x":5.8,"y":0.34,"g":4},{"x":5.88,"y":-0.37,"g":4},{"x":5.99,"y":-1.09,"g":4},{"x":6.06,"y":-1.33,"g":4},{"x":6.17,"y":-2.05,"g":4},{"x":6.35,"y":-2.53,"g":4},{"x":6.71,"y":-2.41,"g":4},{"x":6.88,"y":-2.34,"g":4},{"x":7.07,"y":-2.17,"g":4},{"x":7.28,"y":-2.05,"g":4},{"x":7.79,"y":-3.73,"g":4},{"x":7.96,"y":-3.73,"g":4},{"x":8.14,"y":-3.73,"g":4},{"x":7.96,"y":-4.38,"g":4},{"x":8.79,"y":-2.36,"g":4},{"x":9.65,"y":-0.57,"g":4},{"x":5.37,"y":0.0,"g":4},
{"x":10.41,"y":-1.33,"g":5},{"x":10.52,"y":-2.0,"g":5},{"x":10.66,"y":-2.1,"g":5},{"x":10.77,"y":-2.77,"g":5},{"x":10.95,"y":-4.2,"g":5},{"x":11.09,"y":-5.12,"g":5},{"x":11.13,"y":-5.69,"g":5},{"x":11.31,"y":-5.76,"g":5},{"x":11.46,"y":-5.88,"g":5},{"x":11.6,"y":-6.0,"g":5},{"x":11.74,"y":-5.64,"g":5},{"x":11.85,"y":-4.92,"g":5},{"x":11.92,"y":-3.97,"g":5},{"x":12.0,"y":-3.25,"g":5},{"x":12.1,"y":-2.72,"g":5},{"x":12.17,"y":-2.9,"g":5},{"x":12.28,"y":-3.49,"g":5},{"x":12.35,"y":-3.73,"g":5},{"x":12.53,"y":-2.53,"g":5},{"x":12.68,"y":-1.93,"g":5},{"x":12.89,"y":-1.45,"g":5},{"x":13.11,"y":-0.25,"g":5},{"x":13.18,"y":0.34,"g":5},{"x":13.36,"y":1.06,"g":5},{"x":14.08,"y":-7.37,"g":5},{"x":14.26,"y":-7.8,"g":5},{"x":14.51,"y":-2.05,"g":5}
]
},
"columns":2,
"spacing":{"row":108,"column":137},
"bounds":"flush",
"concat":[
{"width":372,"height":278,"title":{"text":"Synthetic Dataset","offset":4},"data":{"name":"d1"},
"mark":{"type":"circle","size":18,"opacity":1},
"encoding":{
"x":{"field":"x","type":"quantitative","scale":{"domain":[-13.45,12.69],"nice":false,"zero":false},"axis":{"values":[-10,-5,0,5,10],"title":"Input"}},
"y":{"field":"y","type":"quantitative","scale":{"domain":[-8.13,9.15],"nice":false,"zero":false},"axis":{"values":[-5,0,5],"title":"Output"}},
"color":{"field":"g","type":"nominal","scale":{"domain":[1,2,3,4,5],"range":["#A65628","#377EB8","#4DAF4A","#FF7F00","#984EA3"]},"legend":null}}},
{"width":371,"height":278,"title":{"text":"Fitting resultes","offset":-4.25},
"encoding":{
"x":{"field":"x","type":"quantitative","scale":{"domain":[-15,15],"nice":false,"zero":false},"axis":{"values":[-15,-10,-5,0,5,10,15],"title":"Input"}},
"y":{"field":"y","type":"quantitative","scale":{"domain":[-10,10],"nice":false,"zero":false},"axis":{"values":[-10,-5,0,5,10],"title":"Output"}},
"color":{"field":"g","type":"nominal","scale":{"domain":[1,2,3,4,5],"range":["#A65628","#377EB8","#4DAF4A","#FF7F00","#984EA3"]},"legend":null}},
"layer":[
{"data":{"name":"f1"},"mark":{"type":"line","strokeWidth":2.2,"interpolate":"monotone"}},
{"data":{"name":"p1"},"mark":{"type":"circle","size":16,"opacity":1}}
]},
{"width":372,"height":278,"title":{"text":"Synthetic Dataset","offset":4},"data":{"name":"d2"},
"mark":{"type":"circle","size":18,"opacity":1},
"encoding":{
"x":{"field":"x","type":"quantitative","scale":{"domain":[-15.65,17.71],"nice":false,"zero":false},"axis":{"values":[-15,-10,-5,0,5,10,15],"title":"Input"}},
"y":{"field":"y","type":"quantitative","scale":{"domain":[-7.98,9.5],"nice":false,"zero":false},"axis":{"values":[-5,0,5],"title":"Output"}},
"color":{"field":"g","type":"nominal","scale":{"domain":[1,2,3,4,5],"range":["#A65628","#377EB8","#4DAF4A","#FF7F00","#984EA3"]},"legend":null}}},
{"width":371,"height":278,"title":{"text":"Fitting resultes","offset":-4.25},
"encoding":{
"x":{"field":"x","type":"quantitative","scale":{"domain":[-20,20],"nice":false,"zero":false},"axis":{"values":[-20,-10,0,10,20],"title":"Input"}},
"y":{"field":"y","type":"quantitative","scale":{"domain":[-10,10],"nice":false,"zero":false},"axis":{"values":[-10,-5,0,5,10],"title":"Output"}},
"color":{"field":"g","type":"nominal","scale":{"domain":[1,2,3,4,5],"range":["#A65628","#377EB8","#4DAF4A","#FF7F00","#984EA3"]},"legend":null}},
"layer":[
{"data":{"name":"f2"},"mark":{"type":"line","strokeWidth":2.2,"interpolate":"monotone"}},
{"data":{"name":"p2"},"mark":{"type":"circle","size":16,"opacity":1}}
]}
]
}
